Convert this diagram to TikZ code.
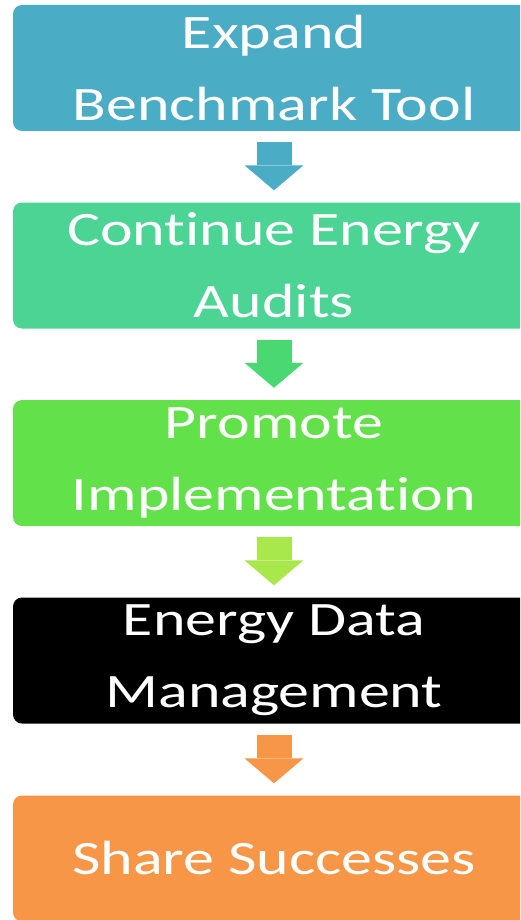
\documentclass[tikz,border=0pt]{standalone}
\usepackage{fontspec}
\setmainfont{Carlito}[FakeStretch=1.29, Ligatures=NoCommon]
\usetikzlibrary{arrows.meta, positioning}
\definecolor{aquabox}{HTML}{4BACC6}
\definecolor{mintbox}{HTML}{4BD493}
\definecolor{mintarrow}{HTML}{4AD872}
\definecolor{limebox}{HTML}{63E14A}
\definecolor{limearrow}{HTML}{A9E84B}
\definecolor{orangebox}{HTML}{F79646}

\begin{document}
\begin{tikzpicture}[
    x=1pt, y=-1pt,
    stepbox/.style={rounded corners=9pt, minimum width=522pt, minimum height=126pt,
        text=white, align=center, inner sep=0pt,
        font=\fontsize{48}{72}\selectfont},
    flow/.style={line width=35pt, shorten <=11pt, shorten >=12pt,
        -{Triangle[width=59pt, length=25pt, line width=0pt]}}
]
\useasboundingbox (0,0) rectangle (520,920);
\clip (0,0) rectangle (520,920);

% Steps placed manually, one under the other
\node[stepbox, fill=aquabox] (B) at (274,68) {Expand\\Benchmark Tool};
\node[stepbox, fill=mintbox] (A) at (274,265.5) {Continue Energy\\Audits};
\node[stepbox, fill=limebox] (I) at (274,463) {Promote\\Implementation};
\node[stepbox, fill=black] (M) at (274,660.5) {Energy Data\\Management};
\node[stepbox, fill=orangebox] (S) at (274,858.5) {Share Successes};

% Arrows
\draw[flow, aquabox] (B) -- (A);
\draw[flow, mintarrow] (A) -- (I);
\draw[flow, limearrow] (I) -- (M);
\draw[flow, orangebox] (M) -- (S);
\end{tikzpicture}
\end{document}
